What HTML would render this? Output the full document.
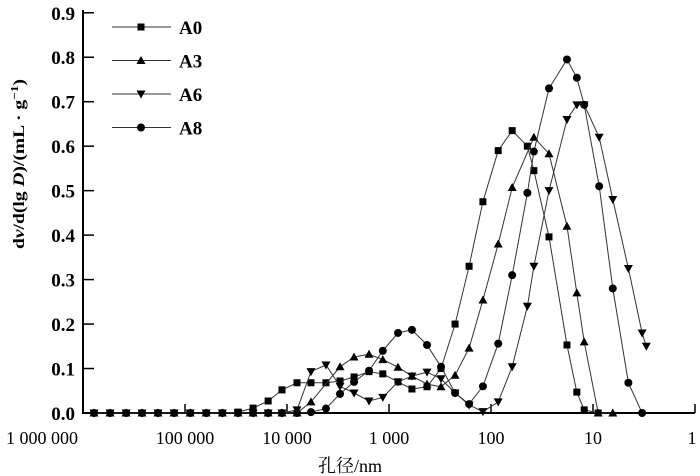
<!DOCTYPE html>
<html><head><meta charset="utf-8"><style>
html,body{margin:0;padding:0;background:#fff;}
svg{display:block;font-family:"Liberation Serif","Noto Serif CJK SC",serif;}
</style></head><body>
<svg id="chart" width="700" height="476" viewBox="0 0 700 476" xmlns="http://www.w3.org/2000/svg">
<g id="axes"></g>
<g id="series"></g>
<g id="legend"></g>
<text transform="translate(24,164) rotate(-90)" text-anchor="middle" font-size="16" font-weight="bold" textLength="170" lengthAdjust="spacingAndGlyphs">d<tspan font-style="italic">v</tspan>/d(lg <tspan font-style="italic">D</tspan>)/(mL · g<tspan dy="-6" font-size="11">−1</tspan><tspan dy="6">)</tspan></text>
<text x="350" y="472" text-anchor="middle" font-size="18">孔径/nm</text>
</svg>
<script>
const xTickValues = [1000000, 100000, 10000, 1000, 100, 10, 1];
const xTickLabels = ["1 000 000", "100 000", "10 000", "1 000", "100", "10", "1"];
const yTickValues = [0, 0.1, 0.2, 0.3, 0.4, 0.5, 0.6, 0.7, 0.8, 0.9];
const seriesNames = ["A0", "A3", "A6", "A8"];
const zeroD = [780000, 543000, 378000, 264000, 184000, 128000, 89000, 62000, 43000];
const a0D = [30200, 21500, 15300, 11200, 7980, 5820, 4150, 3020, 2200, 1570, 1150, 816, 596, 424, 309, 225, 164, 120, 85, 62, 44, 38, 27, 18, 14.4, 12.2, 8.9];
const a0V = [0.002, 0.011, 0.027, 0.052, 0.068, 0.068, 0.068, 0.072, 0.081, 0.093, 0.088, 0.07, 0.054, 0.059, 0.1, 0.2, 0.33, 0.475, 0.59, 0.635, 0.6, 0.545, 0.396, 0.153, 0.047, 0.007, 0];
const a3D = [30200, 21500, 15300, 11200, 7980, 5820, 3020, 2200, 1570, 1150, 816, 596, 424, 309, 225, 164, 120, 85, 62, 38, 27, 18, 14.4, 12.2, 8.9, 6.4];
const a3V = [0, 0, 0, 0, 0, 0.025, 0.104, 0.126, 0.132, 0.12, 0.103, 0.083, 0.065, 0.059, 0.085, 0.146, 0.254, 0.38, 0.507, 0.62, 0.583, 0.42, 0.27, 0.16, 0, 0];
const a6D = [30200, 21500, 15300, 11200, 7980, 5820, 4150, 3020, 2200, 1570, 1150, 816, 596, 424, 309, 225, 164, 120, 85, 62, 44, 38, 27, 18, 14.4, 12.2, 8.7, 6.4, 4.5, 3.3, 3.0];
const a6V = [0, 0, 0, 0, 0.007, 0.093, 0.108, 0.06, 0.045, 0.027, 0.035, 0.07, 0.083, 0.092, 0.077, 0.045, 0.018, 0.003, 0.025, 0.104, 0.24, 0.33, 0.5, 0.66, 0.693, 0.693, 0.62, 0.48, 0.325, 0.18, 0.15];
const a8D = [30200, 21500, 15300, 11200, 7980, 5820, 4150, 3020, 2200, 1570, 1150, 816, 596, 424, 309, 225, 164, 120, 85, 62, 44, 38, 27, 18, 14.4, 12.2, 8.7, 6.4, 4.5, 3.3];
const a8V = [0, 0, 0, 0, 0, 0.002, 0.01, 0.043, 0.07, 0.095, 0.14, 0.18, 0.187, 0.153, 0.104, 0.045, 0.02, 0.06, 0.156, 0.31, 0.495, 0.588, 0.73, 0.795, 0.754, 0.693, 0.51, 0.28, 0.068, 0];

const NS = "http://www.w3.org/2000/svg";
const X0 = 83, DEC = 102, Y0 = 413, YU = 444.7;
function xs(d){ return X0 + (6 - Math.log10(d)) * DEC; }
function ys(v){ return Y0 - v * YU; }
function mk(tag, attrs, parent){ const e = document.createElementNS(NS, tag); for (const k in attrs) e.setAttribute(k, attrs[k]); parent.appendChild(e); return e; }

const axes = document.getElementById('axes');
let ax = mk('line', {x1: X0, y1: Y0, x2: 695, y2: Y0, stroke: '#000', 'stroke-width': 2}, axes);


let ay = mk('line', {x1: X0, y1: 10, x2: X0, y2: Y0 + 1, stroke: '#000', 'stroke-width': 2}, axes);


xTickValues.forEach((d, i) => {
  const x = xs(d);
  const t = mk('line', {x1: x, y1: Y0, x2: x, y2: Y0 - 9, stroke: '#000', 'stroke-width': 1.5}, axes);
  
  
  const lb = mk('text', {x: i === 0 ? x - 41 : (i === 6 ? x - 3 : x), y: 444, 'text-anchor': 'middle', 'font-size': 18}, axes);
  lb.textContent = xTickLabels[i];
  
  
});
yTickValues.forEach(v => {
  const y = ys(v);
  const t = mk('line', {x1: X0, y1: y, x2: X0 + 11, y2: y, stroke: '#000', 'stroke-width': 1.5}, axes);
  
  
  const lb = mk('text', {x: 75, y: y + 7, 'text-anchor': 'end', 'font-size': 19, 'font-weight': 'bold'}, axes);
  lb.textContent = v.toFixed(1);
  
  
});

function marker(type, x, y, parent){
  let e;
  if (type === 0) e = mk('rect', {x: x - 3.5, y: y - 3.5, width: 7, height: 7, fill: '#000'}, parent);
  else if (type === 1) e = mk('polygon', {points: `${x},${y-4.5} ${x-4.5},${y+3.5} ${x+4.5},${y+3.5}`, fill: '#000'}, parent);
  else if (type === 2) e = mk('polygon', {points: `${x},${y+4.5} ${x-4.5},${y-3.5} ${x+4.5},${y-3.5}`, fill: '#000'}, parent);
  else e = mk('circle', {cx: x, cy: y, r: 4, fill: '#000'}, parent);
  return e;
}

const seriesG = document.getElementById('series');
const allD = [a0D, a3D, a6D, a8D], allV = [a0V, a3V, a6V, a8V];
allD.forEach((dArr, si) => {
  const g = mk('g', {}, seriesG);
  
  
  const D = zeroD.concat(dArr), V = zeroD.map(() => 0).concat(allV[si]);
  const pts = D.map((d, i) => xs(d).toFixed(1) + ',' + ys(V[i]).toFixed(1)).join(' ');
  const pl = mk('polyline', {points: pts, fill: 'none', stroke: '#333', 'stroke-width': 1}, g);
  
  
  D.forEach((d, i) => {
    const m = marker(si, xs(d), ys(V[i]), g);
    
    
  });
});

const legend = document.getElementById('legend');
seriesNames.forEach((n, i) => {
  const y = 27 + i * 33.5;
  const g = mk('g', {}, legend);
  
  
  mk('line', {x1: 112, y1: y, x2: 171, y2: y, stroke: '#333', 'stroke-width': 1}, g);
  marker(i, 141, y, g);
  const t = mk('text', {x: 179, y: y + 7, 'font-size': 19, 'font-weight': 'bold'}, g);
  t.textContent = n;
});
</script>
</body></html>
